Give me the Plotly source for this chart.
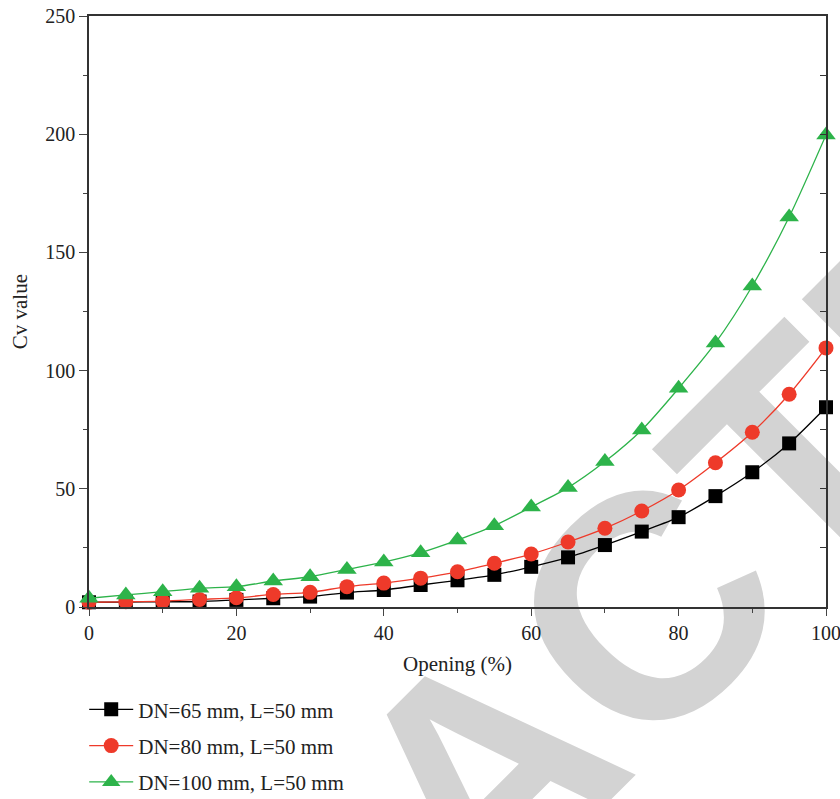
import plotly.graph_objects as go

opening = [0, 5, 10, 15, 20, 25, 30, 35, 40, 45, 50, 55, 60, 65, 70, 75, 80, 85, 90, 95, 100]
cv_dn65 = [2.0, 2.1, 2.2, 2.3, 3.0, 3.7, 4.4, 6.1, 7.2, 9.3, 11.3, 13.6, 17.0, 21.0, 26.2, 31.9, 38.0, 46.9, 57.0, 69.2, 84.5]
cv_dn80 = [2.0, 2.2, 2.5, 3.2, 3.9, 5.3, 6.2, 8.6, 10.1, 12.2, 14.9, 18.5, 22.4, 27.5, 33.3, 40.6, 49.5, 61.0, 73.9, 90.0, 109.6]
cv_dn100 = [3.7, 5.1, 6.5, 7.9, 8.6, 11.0, 12.8, 15.9, 19.0, 23.0, 28.3, 34.4, 42.3, 50.5, 61.5, 74.9, 92.5, 111.7, 135.8, 165.0, 199.7]
series_names = ["DN=65 mm, L=50 mm", "DN=80 mm, L=50 mm", "DN=100 mm, L=50 mm"]
colors = ["#000000", "#EE3A2A", "#2DB34A"]
symbols = ["square", "circle", "triangle-up"]
sizes = [14, 15, 17]

fig = go.Figure()
for i, ys in enumerate([cv_dn65, cv_dn80, cv_dn100]):
    fig.add_trace(go.Scatter(
        x=opening, y=ys, name=series_names[i], mode="lines+markers",
        line=dict(color=colors[i], width=1.3, shape="spline", smoothing=0.8),
        marker=dict(symbol=symbols[i], size=sizes[i], color=colors[i], line=dict(width=0)),
        cliponaxis=False, legendgroup=f"g{i}",
    ))

# invisible trace for right axis ticks
fig.add_trace(go.Scatter(x=[0], y=[0], yaxis="y2", showlegend=False,
                         mode="markers", marker=dict(opacity=0), hoverinfo="skip"))

fig.add_shape(type="rect", xref="paper", yref="paper", x0=0.495, x1=0.515, y0=-0.253, y1=-0.233,
              line=dict(width=0), fillcolor="rgba(0,0,0,0)", layer="below",
              label=dict(text="RETRACTED", textangle=-45, textposition="middle center",
                         font=dict(size=318, color="#d3d3d3", family="Liberation Sans", weight="bold")))

serif = "Liberation Serif, Times New Roman, serif"
fig.update_layout(
    width=840, height=799,
    margin=dict(l=89, r=14, t=16, b=192, autoexpand=False),
    paper_bgcolor="white", plot_bgcolor="white",
    font=dict(family=serif, size=20, color="#222222"),
    showlegend=True,
    legend=dict(x=-0.0065, y=-0.139, xanchor="left", yanchor="top", orientation="v",
                font=dict(size=21, family=serif, color="#222222"), itemwidth=44,
                tracegroupgap=6, bgcolor="rgba(0,0,0,0)"),
    xaxis=dict(range=[0, 100], dtick=20, ticks="outside", ticklen=7, tickwidth=1.3,
               showline=True, linecolor="#333333", linewidth=1.5, mirror=True,
               showgrid=False, zeroline=False, tickfont=dict(size=20), automargin=False,
               ticklabeloverflow="allow",
               minor=dict(dtick=10, ticks="outside", ticklen=4, tickwidth=1.3)),
    yaxis=dict(range=[0, 250], dtick=50, ticks="outside", ticklen=8, tickwidth=1.3,
               showline=True, linecolor="#333333", linewidth=1.5, mirror=True,
               showgrid=False, zeroline=False, tickfont=dict(size=20), automargin=False,
               ticklabeloverflow="allow",
               minor=dict(dtick=25, ticks="outside", ticklen=4, tickwidth=1.3)),
    yaxis2=dict(range=[0, 250], overlaying="y", side="right", dtick=25, ticks="inside",
                ticklen=6, tickwidth=1.3, showticklabels=False, showgrid=False,
                zeroline=False, showline=False, tickcolor="#333333", automargin=False),
    annotations=[
        dict(text="Opening (%)", xref="paper", yref="paper", x=0.5, y=-0.0964,
             xanchor="center", yanchor="middle", showarrow=False, font=dict(size=21)),
        dict(text="Cv value", xref="paper", yref="paper", x=-0.094, y=0.5, textangle=-90,
             xanchor="center", yanchor="middle", showarrow=False, font=dict(size=21)),
    ],
)

fig.write_html("out.html", config={"displayModeBar": False},
               post_script="document.body.style.margin='0';document.body.style.overflow='hidden';")
